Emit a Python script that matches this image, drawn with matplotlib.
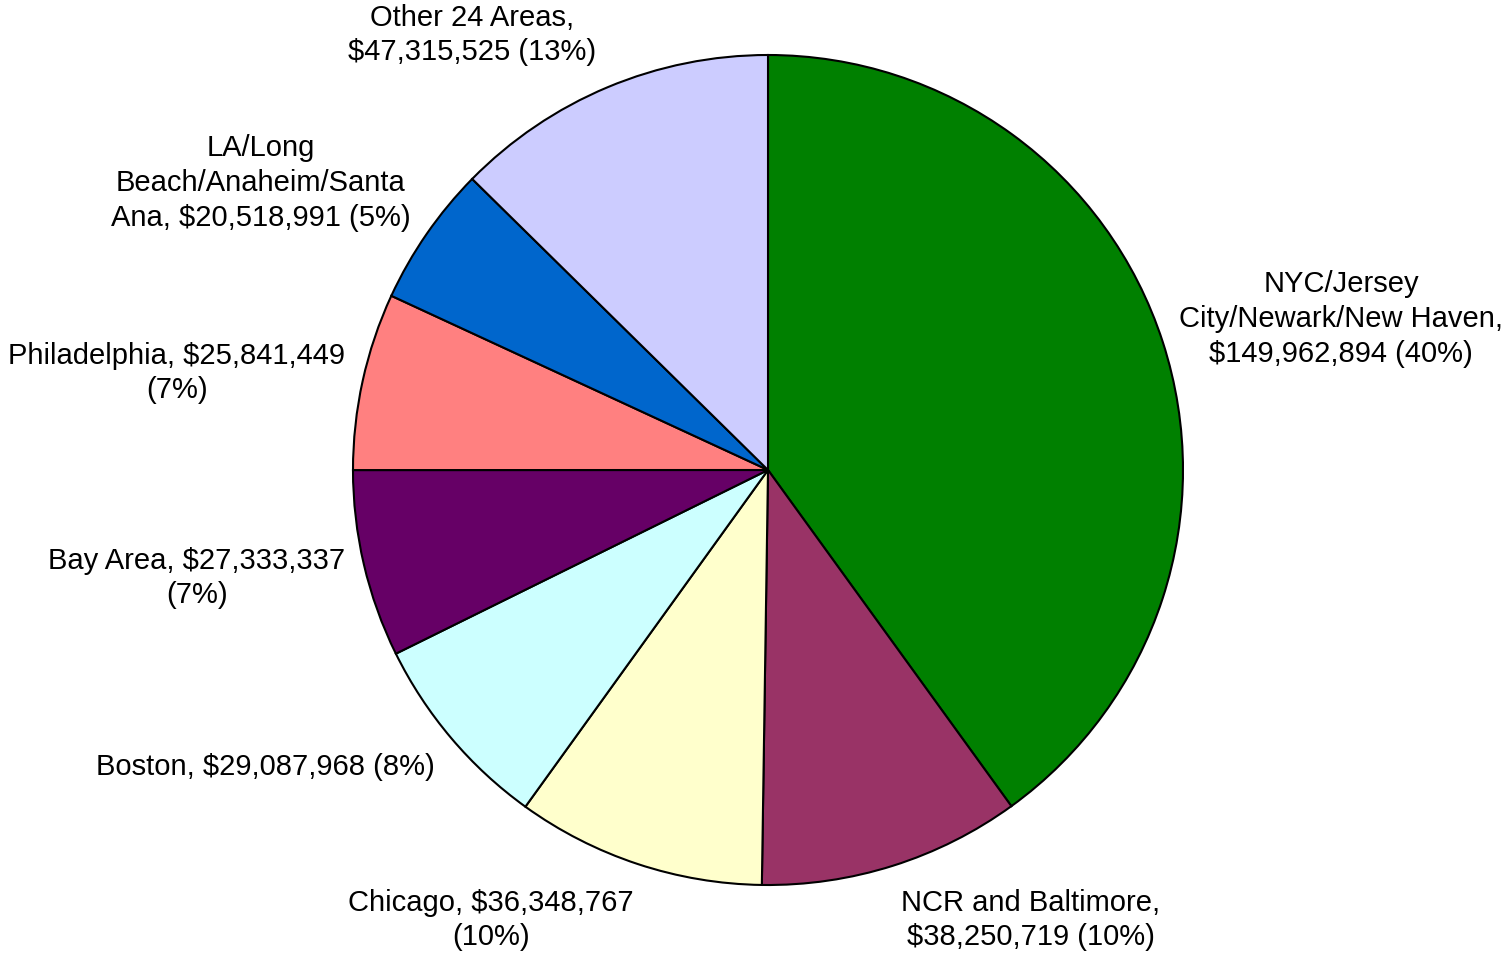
import matplotlib
matplotlib.use("Agg")
import matplotlib.pyplot as plt

# data
areas = ["NYC/Jersey City/Newark/New Haven", "NCR and Baltimore", "Chicago", "Boston",
         "Bay Area", "Philadelphia", "LA/Long Beach/Anaheim/Santa Ana", "Other 24 Areas"]
values = [149962894, 38250719, 36348767, 29087968, 27333337, 25841449, 20518991, 47315525]
colors = ["#008000", "#993366", "#FFFFCC", "#CCFFFF", "#660066", "#FF8080", "#0066CC", "#CCCCFF"]

# label layouts (line breaks as in the original)
label_fmt = [
    "NYC/Jersey\nCity/Newark/New Haven,\n{v} ({p})",
    "NCR and Baltimore,\n{v} ({p})",
    "Chicago, {v}\n({p})",
    "Boston, {v} ({p})",
    "Bay Area, {v}\n({p})",
    "Philadelphia, {v}\n({p})",
    "LA/Long\nBeach/Anaheim/Santa\nAna, {v} ({p})",
    "Other 24 Areas,\n{v} ({p})",
]
# label centres in pixels (x from left, y from top)
label_pos = [(1341, 319), (1031, 920), (491, 920), (265, 767),
             (197, 578), (177, 373), (261, 183), (472, 35)]

W, H = 1508, 958
plt.rcParams["font.family"] = ["Liberation Sans", "DejaVu Sans"]
fig = plt.figure(figsize=(W / 100, H / 100), dpi=100)
cx, cy, r = 768, 470, 415
ax = fig.add_axes([(cx - r) / W, (H - cy - r) / H, 2 * r / W, 2 * r / H])

wedges, _ = ax.pie(values, colors=colors, startangle=90, counterclock=False, radius=1,
                   wedgeprops=dict(edgecolor="black", linewidth=1.5))
for w in wedges:
    w.set_clip_on(False)
ax.set_xlim(-1, 1)
ax.set_ylim(-1, 1)
ax.axis("off")

total = sum(values)
for fmt, v, (px, py) in zip(label_fmt, values, label_pos):
    txt = fmt.format(v=f"${v:,}", p=f"{round(100 * v / total)}%")
    fig.text(px / W, 1 - py / H, txt, ha="center", va="center",
             fontsize=21, linespacing=1.3)

fig.savefig("out.png", dpi=100)
